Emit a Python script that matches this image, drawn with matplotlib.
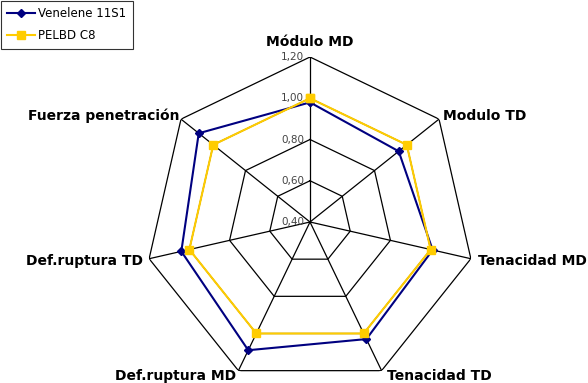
import numpy as np
import matplotlib
matplotlib.use("Agg")
import matplotlib.pyplot as plt

categories = ["Módulo MD", "Modulo TD", "Tenacidad MD", "Tenacidad TD",
              "Def.ruptura MD", "Def.ruptura TD", "Fuerza penetración"]
venelene = [0.98, 0.95, 1.01, 1.03, 1.09, 1.04, 1.09]
pelbd = [1.00, 1.00, 1.00, 1.00, 1.00, 1.00, 1.00]
ring_values = [0.40, 0.60, 0.80, 1.00, 1.20]
ring_labels = ["0,40", "0,60", "0,80", "1,00", "1,20"]
series_names = ["Venelene 11S1", "PELBD C8"]

W, H = 588, 383
fig = plt.figure(figsize=(W / 100, H / 100), dpi=100)
cx, cy, R = 310, 222, 165
ax = fig.add_axes([(cx - R) / W, (H - cy - R) / H, 2 * R / W, 2 * R / H],
                  projection="polar")
ax.set_theta_offset(np.pi / 2)
ax.set_theta_direction(-1)
ax.set_ylim(ring_values[0], ring_values[-1])
ax.grid(False)
ax.spines["polar"].set_visible(False)
ax.set_xticks([])
ax.set_yticks([])
ax.patch.set_alpha(0)

n = len(categories)
theta = np.arange(n) * 2 * np.pi / n
theta_closed = np.append(theta, theta[0])

# polygon rings and spokes
for rv in ring_values[1:]:
    ax.plot(theta_closed, [rv] * (n + 1), color="black", lw=0.9, zorder=1)
for t in theta:
    ax.plot([t, t], [ring_values[0], ring_values[-1]], color="black", lw=0.9, zorder=1)

# ring value labels along the first spoke
for rv, lab in zip(ring_values, ring_labels):
    ax.annotate(lab, xy=(0, rv), xytext=(-6, 0), textcoords="offset pixels",
                fontsize=7.5, color="#444444", ha="right", va="center", zorder=2)

v = np.append(venelene, venelene[0])
p = np.append(pelbd, pelbd[0])
l1, = ax.plot(theta_closed, v, color="#000080", lw=1.5, marker="D", ms=4.5,
              label=series_names[0], zorder=3, clip_on=False)
l2, = ax.plot(theta_closed, p, color="#FFCC00", lw=1.5, marker="s", ms=6,
              label=series_names[1], zorder=4, clip_on=False)

# category labels
label_pos = [
    (310, 42, "center"),
    (443, 116, "left"),
    (478, 261, "left"),
    (387, 376, "left"),
    (236, 376, "right"),
    (143, 261, "right"),
    (180, 116, "right"),
]
for (x, y, ha), name in zip(label_pos, categories):
    fig.text(x / W, 1 - y / H, name, fontsize=10, fontweight="bold",
             ha=ha, va="center", family="DejaVu Sans")

leg = fig.legend(handles=[l1, l2], loc="upper left",
                 bbox_to_anchor=(1 / W, 1 - 1 / H), fontsize=8.5,
                 frameon=True, fancybox=False, edgecolor="black",
                 borderpad=0.55, labelspacing=0.75, handlelength=2.3,
                 handletextpad=0.3, borderaxespad=0)
leg.get_frame().set_linewidth(0.8)

fig.savefig("out.png", dpi=100)
